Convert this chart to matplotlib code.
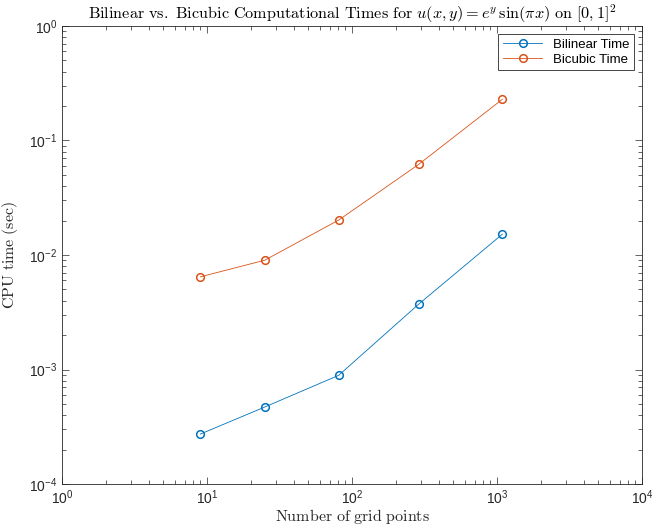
import matplotlib
matplotlib.use('Agg')
import matplotlib.pyplot as plt
import numpy as np

# grid sizes and timings
grid_points = [9, 25, 81, 289, 1089]
bilinear_time = [2.73e-4, 4.7e-4, 8.9e-4, 3.73e-3, 1.52e-2]
bicubic_time = [6.45e-3, 9.0e-3, 2.02e-2, 6.2e-2, 0.229]

plt.rcParams['mathtext.fontset'] = 'cm'
plt.rcParams['font.family'] = ['Liberation Sans', 'DejaVu Sans']
axcol = '#262626'

fig = plt.figure(figsize=(6.53, 5.29), dpi=100)
ax = fig.add_axes([62/653, 45/529, 580/653, 458/529])

ax.loglog(grid_points, bilinear_time, '-o', color='#0072BD', lw=0.6,
          markersize=5.5, markerfacecolor='none', markeredgewidth=1.1,
          label='Bilinear Time')
ax.loglog(grid_points, bicubic_time, '-o', color='#D95319', lw=0.6,
          markersize=5.5, markerfacecolor='none', markeredgewidth=1.1,
          label='Bicubic Time')

ax.set_xlim(1, 1e4)
ax.set_ylim(1e-4, 1)
ax.tick_params(which='both', direction='in', top=True, right=True,
               color=axcol, labelcolor=axcol, labelsize=10, width=0.5)
ax.tick_params(which='major', length=5)
ax.tick_params(which='minor', length=3)
for s in ax.spines.values():
    s.set_color(axcol)
    s.set_linewidth(0.6)

ax.set_title(r'$\mathrm{Bilinear\ vs.\ Bicubic\ Computational\ Times\ for\ }u(x,y) = e^y\,\sin(\pi x)\mathrm{\ on\ }[0,1]^2$',
             fontsize=11.7, color='black', pad=5)
ax.set_xlabel(r'$\mathrm{Number\ of\ grid\ points}$', fontsize=11.5, color=axcol, labelpad=0)
ax.set_ylabel(r'$\mathrm{CPU\ time\ (sec)}$', fontsize=11.5, color=axcol, labelpad=6)

leg = ax.legend(loc='upper right', fontsize=9.5, fancybox=False, framealpha=1,
                edgecolor=axcol, borderaxespad=0.6, handlelength=3.0,
                borderpad=0.35, labelspacing=0.2)
leg.get_frame().set_linewidth(0.6)

fig.savefig('out.png', dpi=100)
